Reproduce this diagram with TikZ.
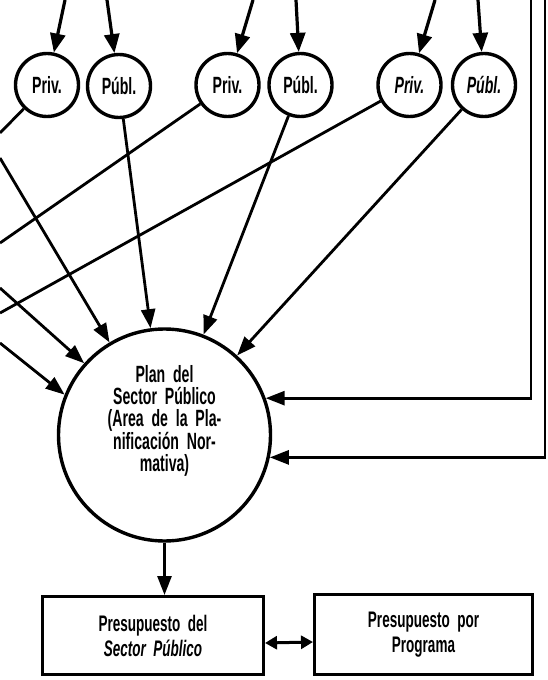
\documentclass[tikz,border=0pt]{standalone}
\usepackage{fontspec}
\newfontfamily\cond{Liberation Sans}[FakeStretch=0.6]
\usetikzlibrary{arrows.meta}
\begin{document}
\begin{tikzpicture}[x=1pt,y=-1pt,
  every node/.style={font=\cond\bfseries\fontsize{23.5}{22}\selectfont},
  small/.style={circle,draw,line width=3.4pt,minimum size=63pt,inner sep=0pt},
  big/.style={circle,draw,line width=3.4pt,minimum size=212pt,inner sep=0pt},
  box/.style={rectangle,draw,line width=3pt,align=center,inner sep=0pt,
    font=\cond\bfseries\fontsize{22.5}{25}\selectfont},
  conn/.style={line width=2.8pt},
  arr/.style={conn,-{Triangle[length=19pt,width=14pt]}},
  toparr/.style={line width=3.2pt,-{Triangle[length=19pt,width=15pt]}},
  dbl/.style={line width=3pt,{Triangle[length=12pt,width=13pt]}-{Triangle[length=12pt,width=13pt]}},
]
\useasboundingbox (0,0) rectangle (548,680);

% small circles
\node[small] (priv1) at (47,85) {Priv.};
\node[small] (publ1) at (119,86) {Públ.};
\node[small] (priv2) at (227.5,85) {Priv.};
\node[small] (publ2) at (300.5,85) {Públ.};
\node[small] (priv3) at (409.5,85) {\itshape Priv.};
\node[small] (publ3) at (484,85) {\itshape Públ.};

% big circle
\node[big] (plan) at (164.5,435) {};
\node[align=center] (plantext) at (164.5,421) {Plan\ \ del\\Sector\ \ Público\\(Area\ \ de\ \ la\ \ Pla-\\nificación\ \ Nor-\\mativa)};

% boxes
\node[box,minimum width=221pt,minimum height=78pt] (box1) at (153,635.5)
  {Presupuesto\ \ del\\{\itshape Sector\ \ Público}};
\node[box,minimum width=218pt,minimum height=80pt] (box2) at (423.5,634.5)
  {Presupuesto\ \ por\\Programa};

% coordinates at the frame edges
\coordinate (T1) at (65,0);
\coordinate (T2) at (107,0);
\coordinate (T3) at (253,0);
\coordinate (T4) at (296,0);
\coordinate (T5) at (435,0);
\coordinate (T6) at (478,0);
\coordinate (L1) at (0,158);
\coordinate (L2) at (0,288);
\coordinate (L3) at (0,343);
\coordinate (P1e) at (0,133);
\coordinate (P2e) at (0,243);
\coordinate (P3e) at (0,313);
\coordinate (R1) at (531,0);
\coordinate (R2) at (545,0);

% top arrows
\foreach \t/\c in {T1/priv1,T2/publ1,T3/priv2,T4/publ2,T5/priv3,T6/publ3}
  \draw[toparr] (\t) -- (\c);

% private lines leaving to the left
\draw[conn] (priv1) -- (P1e);
\draw[conn] (priv2) -- (P2e);
\draw[conn] (priv3) -- (P3e);

% arrows from the left edge
\draw[arr] (L1) -- (plan);
\draw[arr] (L2) -- (plan);
\draw[arr] (L3) -- (plan.158.4);

% public arrows
\draw[arr] (publ1) -- (plan);
\draw[arr] (publ2) -- (plan);
\draw[arr] (publ3) -- (plan);

% feedback lines on the right
\draw[arr] (R1) |- (plan.20.6);
\draw[arr] (R2) |- (plan.-12.2);

% to the boxes
\draw[arr] (plan.south) -- (plan.south |- box1.north);
\draw[dbl] ([yshift=-7.5pt]box1.east) -- ([yshift=-7.5pt]box2.west);
\end{tikzpicture}
\end{document}
